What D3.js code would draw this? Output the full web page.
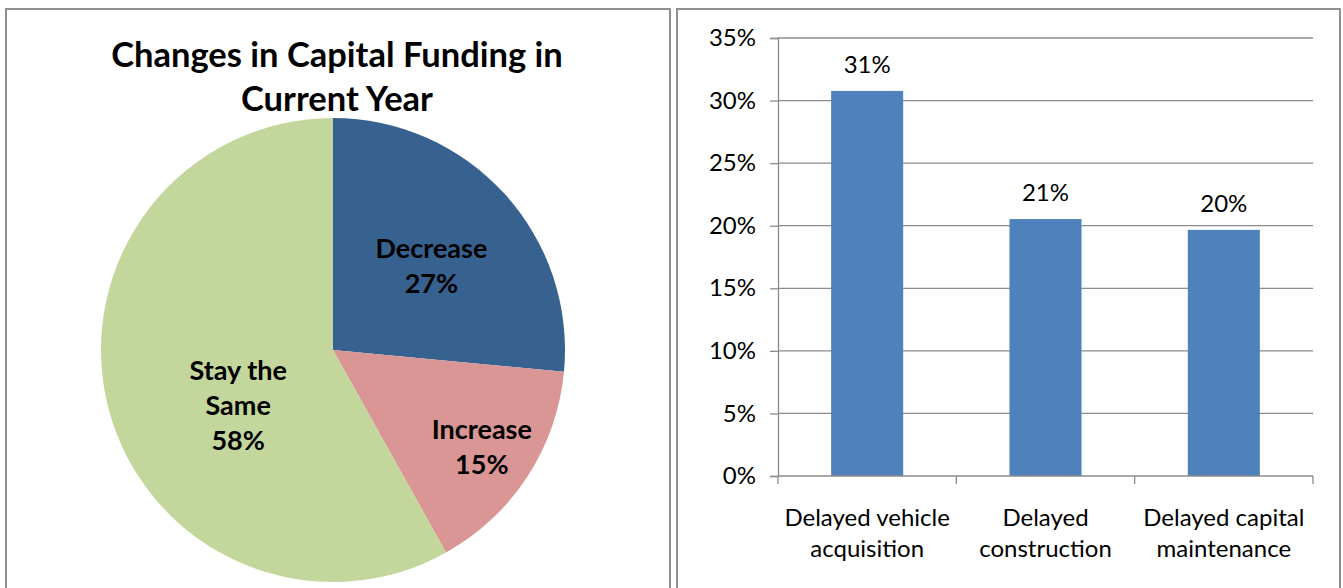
<!DOCTYPE html>
<html>
<head>
<meta charset="utf-8">
<script src="https://cdn.jsdelivr.net/npm/d3@7"></script>
<style>
    body { margin: 0; background: #fff; }
    text { font-family: Lato, "Open Sans", sans-serif; fill: #000; }
</style>
</head>
<body>
<div id="chart"></div>
<script>
// pie data
const pie_labels = ["Decrease", "Increase", "Stay the Same"]
const pie_values = [26.5, 15.4, 58.1]
const pie_text = ["27%", "15%", "58%"]
const pie_colors = ["#37618F", "#D99694", "#C3D69B"]

// bar data
const bar_categories = [["Delayed vehicle", "acquisition"], ["Delayed", "construction"], ["Delayed capital", "maintenance"]]
const bar_values = [0.3077, 0.2053, 0.1967]
const bar_text = ["31%", "21%", "20%"]
const y_ticks = [0, 0.05, 0.10, 0.15, 0.20, 0.25, 0.30, 0.35]

const title_lines = ["Changes in Capital Funding in", "Current Year"]

let width = 1343, height = 588

let svg = d3.select("#chart")
    .append("svg")
    .attr("width", width)
    .attr("height", height)

// panel frames
svg.append("rect")
    .attr("x", 6).attr("y", 9)
    .attr("width", 664).attr("height", 620)
    .attr("fill", "none")
    .attr("stroke", "#8f8f8f")
    .attr("stroke-width", 2)

svg.append("rect")
    .attr("x", 677).attr("y", 9)
    .attr("width", 663).attr("height", 620)
    .attr("fill", "none")
    .attr("stroke", "#8f8f8f")
    .attr("stroke-width", 2)

// ---------- pie ----------
let title = svg.append("text")
    .attr("text-anchor", "middle")
    .attr("font-weight", "bold")
    .attr("font-size", "34.5px")

title.selectAll("tspan")
    .data(title_lines)
    .enter()
    .append("tspan")
    .attr("x", 337)
    .attr("y", (d, i) => 67 + i * 44)
    .text(d => d)

const cx = 333, cy = 350, r = 232

let pie_data = pie_labels.map((d, i) => ({ label: d, value: pie_values[i], text: pie_text[i], color: pie_colors[i] }))

let pie = d3.pie().sort(null).value(d => d.value)
let arc = d3.arc().innerRadius(0).outerRadius(r)

let pie_g = svg.append("g")
    .attr("transform", `translate(${cx},${cy})`)

let arcs = pie(pie_data)

pie_g.selectAll("path")
    .data(arcs)
    .enter()
    .append("path")
    .attr("d", arc)
    .attr("fill", d => d.data.color)

// label radius per slice (Excel puts them a bit unevenly)
const label_r = { "Decrease": 0.556, "Increase": 0.766, "Stay the Same": 0.475 }
const label_shift = { "Decrease": 2, "Increase": 0, "Stay the Same": -16 }

arcs.forEach(d => {
    let mid = (d.startAngle + d.endAngle) / 2 + label_shift[d.data.label] * Math.PI / 180
    let rr = r * label_r[d.data.label]
    let x = Math.sin(mid) * rr
    let y = -Math.cos(mid) * rr
    let lines = d.data.label == "Stay the Same" ? ["Stay the", "Same", d.data.text] : [d.data.label, d.data.text]
    let t = pie_g.append("text")
        .attr("text-anchor", "middle")
        .attr("font-weight", "bold")
        .attr("font-size", "27px")
    lines.forEach((l, i) => {
        t.append("tspan")
            .attr("x", x)
            .attr("y", y - (lines.length - 1) * 35 / 2 + i * 35 + 9)
            .text(l)
    })
})

// ---------- bars ----------
let margin = { top: 38, left: 778, bottom: 112, right: 30 }

const xScale = d3.scaleBand()
    .domain(bar_categories.map((d, i) => i))
    .range([margin.left, width - margin.right])
    .paddingInner(0.596)
    .paddingOuter(0.298)

const yScale = d3.scaleLinear()
    .domain([0, 0.35])
    .range([height - margin.bottom, margin.top])

let plot = svg.append("g")

// gridlines
plot.append("g")
    .selectAll("line")
    .data(y_ticks.slice(1))
    .enter()
    .append("line")
    .attr("x1", margin.left)
    .attr("x2", width - margin.right)
    .attr("y1", d => yScale(d))
    .attr("y2", d => yScale(d))
    .attr("stroke", "#8c8c8c")
    .attr("stroke-width", 1.3)

plot.append("g")
    .selectAll("rect")
    .data(bar_values)
    .enter()
    .append("rect")
    .attr("x", (d, i) => xScale(i))
    .attr("y", d => yScale(d))
    .attr("width", xScale.bandwidth())
    .attr("height", d => yScale(0) - yScale(d))
    .attr("fill", "#4F81BD")

plot.append("g")
    .selectAll("text")
    .data(bar_values)
    .enter()
    .append("text")
    .attr("x", (d, i) => xScale(i) + xScale.bandwidth() / 2)
    .attr("y", d => yScale(d) - 18)
    .attr("text-anchor", "middle")
    .attr("font-size", "24px")
    .text((d, i) => bar_text[i])

// y axis
const yAxis = d3.axisLeft(yScale)
    .tickValues(y_ticks)
    .tickSize(8)
    .tickPadding(14)
    .tickFormat(d3.format(".0%"))

let y_axis = plot.append("g")
    .attr("transform", `translate(${margin.left},0)`)
    .call(yAxis)

y_axis.select(".domain").attr("stroke", "#8c8c8c").attr("stroke-width", 1.3)
y_axis.selectAll(".tick line").attr("stroke", "#8c8c8c").attr("stroke-width", 1.3)
y_axis.selectAll(".tick text")
    .attr("font-size", "24px")
    .attr("font-family", "Lato, sans-serif")
    .attr("fill", "#000")

// x axis: ticks between categories
const step = xScale.step()
const boundaries = d3.range(bar_categories.length + 1).map(i => margin.left + i * step)

let x_axis = plot.append("g")

x_axis.append("line")
    .attr("x1", margin.left)
    .attr("x2", width - margin.right)
    .attr("y1", yScale(0))
    .attr("y2", yScale(0))
    .attr("stroke", "#8c8c8c")
    .attr("stroke-width", 1.3)

x_axis.selectAll(".xtick")
    .data(boundaries)
    .enter()
    .append("line")
    .attr("x1", d => d)
    .attr("x2", d => d)
    .attr("y1", yScale(0))
    .attr("y2", yScale(0) + 8)
    .attr("stroke", "#8c8c8c")
    .attr("stroke-width", 1.3)

let x_labels = x_axis.selectAll(".xlabel")
    .data(bar_categories)
    .enter()
    .append("text")
    .attr("text-anchor", "middle")
    .attr("font-size", "24px")

x_labels.selectAll("tspan")
    .data((d, i) => d.map(l => ({ l: l, i: i })))
    .enter()
    .append("tspan")
    .attr("x", d => xScale(d.i) + xScale.bandwidth() / 2)
    .attr("y", (d, j) => yScale(0) + 50 + j * 31)
    .text(d => d.l)
</script>
</body>
</html>
